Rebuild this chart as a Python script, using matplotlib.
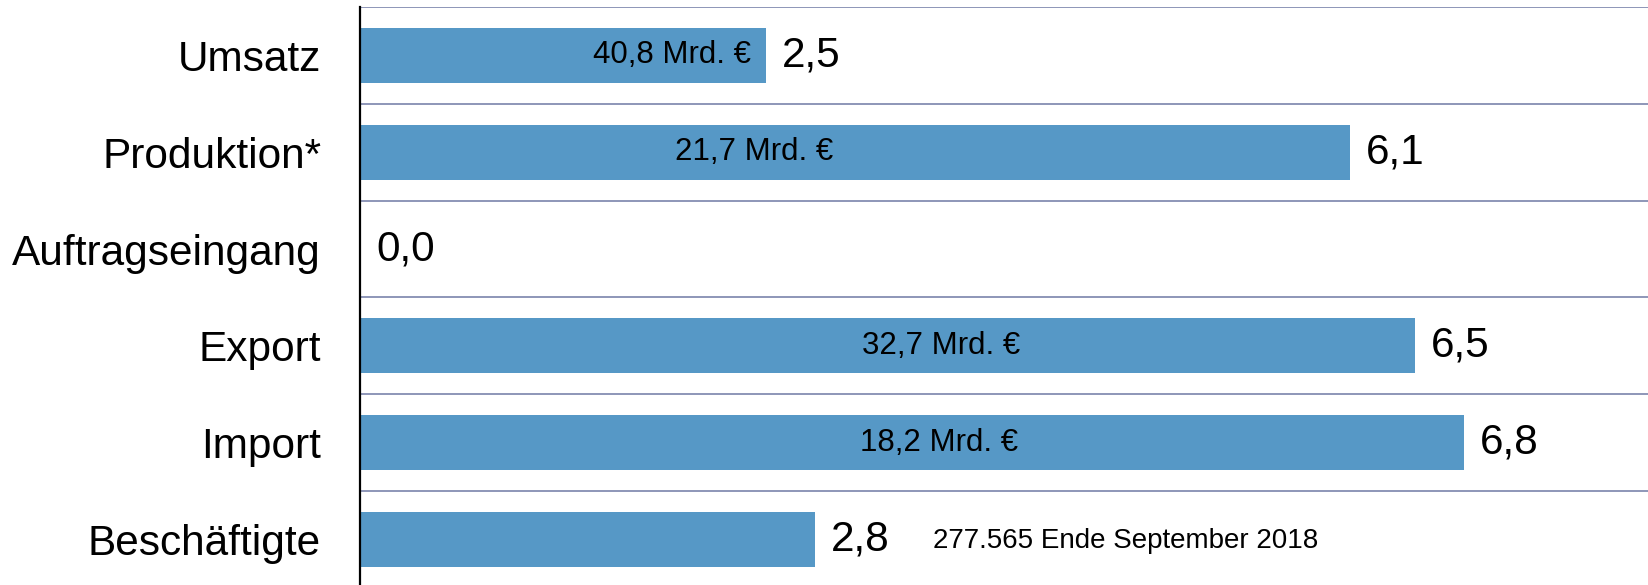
import matplotlib.pyplot as plt

plt.rcParams['font.family'] = ['Liberation Sans', 'DejaVu Sans']

categories = ["Umsatz", "Produktion*", "Auftragseingang", "Export", "Import", "Beschäftigte"]
bar_values = [2.5, 6.1, 0.0, 6.5, 6.8, 2.8]
value_labels = ["2,5", "6,1", "0,0", "6,5", "6,8", "2,8"]
inner_labels = ["40,8 Mrd. €", "21,7 Mrd. €", "", "32,7 Mrd. €", "18,2 Mrd. €", ""]
inner_x = [2.41, 1.94, 0, 3.09, 3.08, 0]
inner_ha = ["right", "left", "left", "left", "left", "left"]
note_text = "277.565 Ende September 2018"

bar_color = "#5698c6"
grid_color = "#8d96b8"

fig = plt.figure(figsize=(16.49, 5.85), dpi=100)
ax = fig.add_axes([360 / 1649, 0, 1 - 360 / 1649, 578 / 585])

y = list(range(len(categories)))
ax.barh(y, bar_values, height=0.57, color=bar_color)

for i in range(len(categories) + 1):
    ax.axhline(i - 0.5, color=grid_color, lw=1.4, zorder=0)

for i, (v, lab) in enumerate(zip(bar_values, value_labels)):
    ax.annotate(lab, (v, i), xytext=(11.5, 0), textcoords="offset points",
                ha="left", va="center", fontsize=30.5)
    if inner_labels[i]:
        ax.text(inner_x[i], i, inner_labels[i], ha=inner_ha[i], va="center", fontsize=22.5)

ax.text(3.53, 5.02, note_text, ha="left", va="center", fontsize=20)

ax.set_xlim(0, 7.94)
ax.set_ylim(5.47, -0.5)
ax.set_yticks(y)
ax.set_yticklabels(categories, fontsize=30.5)
ax.tick_params(axis="y", length=0, pad=28)
ax.set_xticks([])
for s in ["top", "right", "bottom"]:
    ax.spines[s].set_visible(False)
ax.spines["left"].set_color("black")
ax.spines["left"].set_linewidth(1.6)
ax.spines["left"].set_zorder(5)

fig.savefig("out.png", dpi=100)
